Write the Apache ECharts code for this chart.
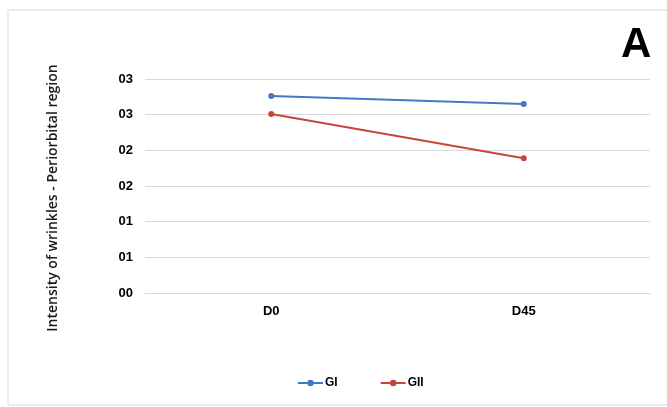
<!DOCTYPE html>
<html>
<head>
<meta charset="utf-8">
<script src="https://cdn.jsdelivr.net/npm/echarts@6/dist/echarts.min.js"></script>
<style>
  html, body { margin: 0; padding: 0; background: #fff; }
  #chart { width: 667px; height: 407px; }
</style>
</head>
<body>
<div id="chart"></div>
<script>
const categories = ['D0', 'D45'];
const giValues = [2.76, 2.65];
const giiValues = [2.51, 1.89];
const yTickLabels = ['00', '01', '01', '02', '02', '03', '03'];

const C = { blue: '#4677c5', red: '#c8453e' };
const chart = echarts.init(document.getElementById('chart'));

function lineSeries(name, data, color) {
  return {
    name: name,
    type: 'line',
    symbol: 'circle',
    symbolSize: 6,
    lineStyle: { width: 2, color: color },
    itemStyle: { color: color },
    data: data
  };
}

chart.setOption({
  animation: false,
  textStyle: { fontFamily: 'Liberation Sans, Arial, sans-serif' },
  graphic: [
    {
      type: 'rect',
      shape: { x: 8, y: 10, width: 700, height: 395 },
      style: { fill: 'none', stroke: '#d9d9d9', lineWidth: 1 },
      silent: true
    },
    {
      type: 'text',
      left: 621,
      top: 24,
      style: { text: 'A', font: 'bold 42px "Liberation Sans", Arial, sans-serif', fill: '#000' }
    },
    {
      type: 'text',
      x: 53,
      y: 198,
      rotation: Math.PI / 2,
      style: {
        text: 'Intensity of wrinkles - Periorbital region',
        font: '600 14px "Open Sans", "Noto Sans", sans-serif',
        fill: '#1a1a1a',
        align: 'center',
        verticalAlign: 'middle'
      }
    }
  ],
  legend: {
    bottom: 13,
    left: 292,
    itemWidth: 25,
    itemHeight: 8,
    itemGap: 42,
    textStyle: { fontWeight: 'bold', fontSize: 12, color: '#000', padding: [0, 0, 0, -3] },
    data: ['GI', 'GII']
  },
  grid: { left: 145, right: 17, top: 79, bottom: 114 },
  xAxis: {
    type: 'category',
    data: categories,
    axisLine: { show: true, lineStyle: { color: '#d9d9d9', width: 1 } },
    axisTick: { show: false },
    axisLabel: { color: '#000', fontWeight: 'bold', fontSize: 13, margin: 12 }
  },
  yAxis: {
    type: 'value',
    min: 0,
    max: 3,
    interval: 0.5,
    axisLine: { show: false },
    axisTick: { show: false },
    splitLine: { lineStyle: { color: '#d9d9d9', width: 1 } },
    axisLabel: {
      color: '#000',
      fontWeight: 'bold',
      fontSize: 13,
      margin: 12,
      formatter: (v, i) => yTickLabels[i]
    }
  },
  series: [
    lineSeries('GI', giValues, C.blue),
    lineSeries('GII', giiValues, C.red)
  ]
});
</script>
</body>
</html>
